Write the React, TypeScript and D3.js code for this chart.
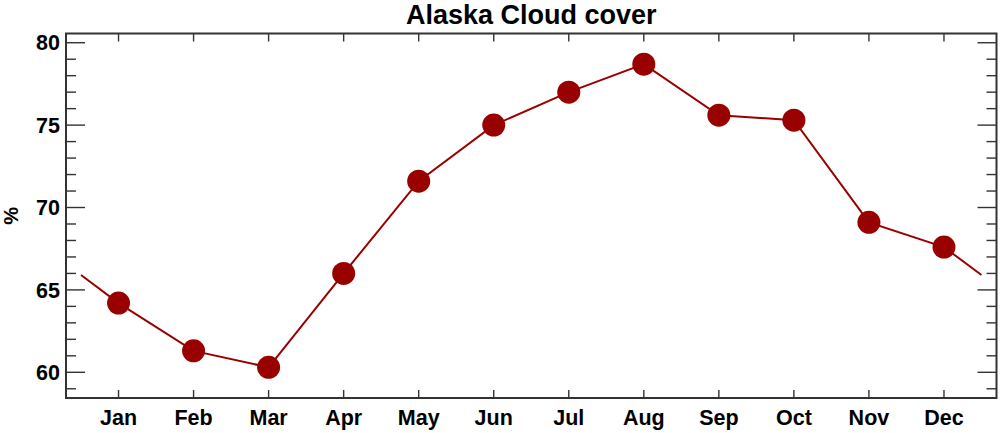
import React from 'react';
import * as d3 from 'd3';

// Alaska monthly cloud cover (%)
const months = ['Jan', 'Feb', 'Mar', 'Apr', 'May', 'Jun', 'Jul', 'Aug', 'Sep', 'Oct', 'Nov', 'Dec'];
const cover = [64.2, 61.3, 60.3, 66.0, 71.6, 75.0, 77.0, 78.7, 75.6, 75.3, 69.1, 67.6];
const majorTicks = [60, 65, 70, 75, 80];
const minorTicks = d3.range(59, 81);

const W = 1000;
const H = 433;
const margin = { top: 33.5, right: 3.5, bottom: 35, left: 66 };
const RED = '#990000';
const AXIS = '#333';
const FONT = '"Liberation Sans", Arial, Helvetica, sans-serif';

const App: React.FC = () => {
  const x = d3.scaleLinear().domain([0.3, 12.7]).range([margin.left, W - margin.right]);
  const y = d3.scaleLinear().domain([58.44, 80.56]).range([H - margin.bottom, margin.top]);

  // cyclic wrap: the line runs half a month beyond Jan and Dec
  const wrap = (cover[0] + cover[11]) / 2;
  const pts: [number, number][] = [
    [0.5, wrap],
    ...cover.map((v, i) => [i + 1, v] as [number, number]),
    [12.5, wrap],
  ];
  const line = d3.line<[number, number]>().x(d => x(d[0])).y(d => y(d[1]));

  const [x0, x1] = x.range();
  const [yb, yt] = y.range();

  return (
    <svg width={W} height={H} style={{ position: 'absolute', left: 0, top: 0, background: '#fff' }}>
      <text x={(x0 + x1) / 2} y={24} textAnchor="middle" fontFamily={FONT} fontWeight="bold" fontSize={27}>
        Alaska Cloud cover
      </text>

      {/* y ticks, both sides, pointing inward */}
      {minorTicks.map(t => {
        const len = majorTicks.includes(t) ? 19 : 10;
        return (
          <g key={'y' + t} stroke={AXIS} strokeWidth={1.4}>
            <line x1={x0} x2={x0 + len} y1={y(t)} y2={y(t)} />
            <line x1={x1} x2={x1 - len} y1={y(t)} y2={y(t)} />
          </g>
        );
      })}
      {majorTicks.map(t => (
        <text key={'yl' + t} x={x0 - 6} y={y(t)} dy="0.36em" textAnchor="end"
          fontFamily={FONT} fontWeight="bold" fontSize={21.5}>{t}</text>
      ))}

      {/* x ticks top and bottom */}
      {months.map((m, i) => (
        <g key={m}>
          <line x1={x(i + 1)} x2={x(i + 1)} y1={yt} y2={yt + 8} stroke={AXIS} strokeWidth={1.4} />
          <line x1={x(i + 1)} x2={x(i + 1)} y1={yb} y2={yb - 8} stroke={AXIS} strokeWidth={1.4} />
          <text x={x(i + 1)} y={425} textAnchor="middle" fontFamily={FONT} fontWeight="bold" fontSize={21.5}>{m}</text>
        </g>
      ))}

      <rect x={x0} y={yt} width={x1 - x0} height={yb - yt} fill="none" stroke={AXIS} strokeWidth={2} />

      <text transform={`translate(18,${(yt + yb) / 2}) rotate(-90)`} textAnchor="middle"
        fontFamily={FONT} fontWeight="bold" fontSize={20}>%</text>

      <path d={line(pts) ?? ''} fill="none" stroke={RED} strokeWidth={2} />
      {cover.map((v, i) => (
        <circle key={'c' + i} cx={x(i + 1)} cy={y(v)} r={11.5} fill={RED} />
      ))}
    </svg>
  );
};

export default App;
